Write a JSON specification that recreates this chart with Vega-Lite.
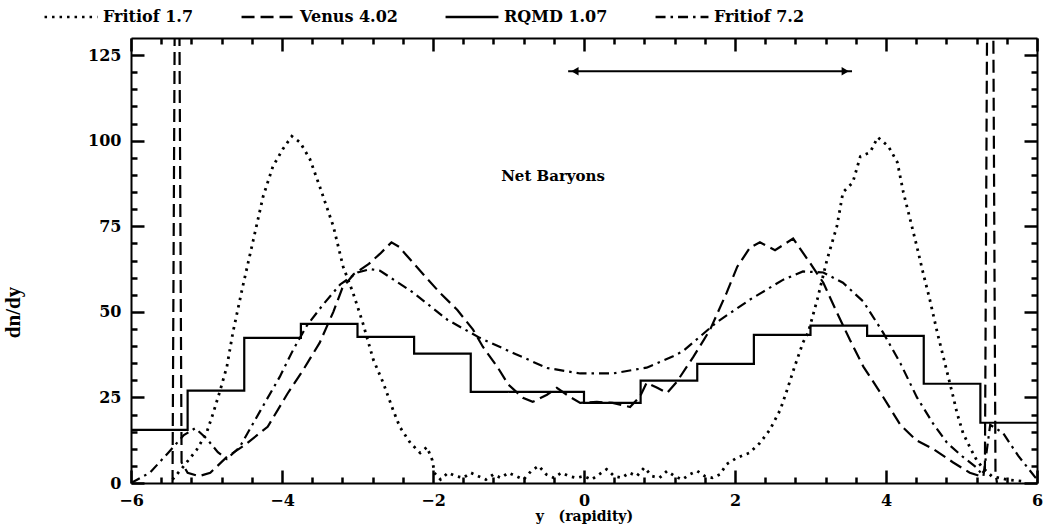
{
  "$schema": "https://vega.github.io/schema/vega-lite/v6.json",
  "width": 906,
  "height": 445,
  "autosize": {"type": "none"},
  "padding": {"left": 131, "top": 38, "right": 6, "bottom": 45},
  "background": "white",
  "config": {
    "view": {"stroke": null},
    "axis": {
      "domainColor": "black", "domainWidth": 2, "tickWidth": 2.5,
      "labelColor": "black", "labelFont": "DejaVu Serif", "labelFontWeight": "bold", "labelFontSize": 16,
      "grid": false, "titleColor": "black"
    }
  },
  "datasets": {
    "curves": [
      {"model": "Fritiof 1.7", "x": -5.45, "y": 1},
      {"model": "Fritiof 1.7", "x": -5.31, "y": 4.7},
      {"model": "Fritiof 1.7", "x": -5.13, "y": 9.7},
      {"model": "Fritiof 1.7", "x": -5.0, "y": 14.6},
      {"model": "Fritiof 1.7", "x": -4.91, "y": 20.5},
      {"model": "Fritiof 1.7", "x": -4.82, "y": 27},
      {"model": "Fritiof 1.7", "x": -4.73, "y": 34},
      {"model": "Fritiof 1.7", "x": -4.65, "y": 44},
      {"model": "Fritiof 1.7", "x": -4.52, "y": 57.4},
      {"model": "Fritiof 1.7", "x": -4.38, "y": 71},
      {"model": "Fritiof 1.7", "x": -4.25, "y": 83.7},
      {"model": "Fritiof 1.7", "x": -4.12, "y": 92.5},
      {"model": "Fritiof 1.7", "x": -3.99, "y": 97.5},
      {"model": "Fritiof 1.7", "x": -3.87, "y": 101.3},
      {"model": "Fritiof 1.7", "x": -3.76, "y": 99.5},
      {"model": "Fritiof 1.7", "x": -3.63, "y": 94.6},
      {"model": "Fritiof 1.7", "x": -3.5, "y": 86.6},
      {"model": "Fritiof 1.7", "x": -3.32, "y": 75},
      {"model": "Fritiof 1.7", "x": -3.19, "y": 63.2},
      {"model": "Fritiof 1.7", "x": -3.06, "y": 55.6},
      {"model": "Fritiof 1.7", "x": -2.93, "y": 46.8},
      {"model": "Fritiof 1.7", "x": -2.79, "y": 36},
      {"model": "Fritiof 1.7", "x": -2.66, "y": 29.3},
      {"model": "Fritiof 1.7", "x": -2.53, "y": 21.4},
      {"model": "Fritiof 1.7", "x": -2.44, "y": 16.4},
      {"model": "Fritiof 1.7", "x": -2.3, "y": 11.7},
      {"model": "Fritiof 1.7", "x": -2.17, "y": 8.8},
      {"model": "Fritiof 1.7", "x": -2.08, "y": 10.5},
      {"model": "Fritiof 1.7", "x": -2.01, "y": 6.7},
      {"model": "Fritiof 1.7", "x": -1.98, "y": 2.9},
      {"model": "Fritiof 1.7", "x": -1.9, "y": 1},
      {"model": "Fritiof 1.7", "x": -1.8, "y": 3},
      {"model": "Fritiof 1.7", "x": -1.7, "y": 2},
      {"model": "Fritiof 1.7", "x": -1.6, "y": 1.5},
      {"model": "Fritiof 1.7", "x": -1.5, "y": 3},
      {"model": "Fritiof 1.7", "x": -1.4, "y": 2},
      {"model": "Fritiof 1.7", "x": -1.3, "y": 1},
      {"model": "Fritiof 1.7", "x": -1.2, "y": 2.5},
      {"model": "Fritiof 1.7", "x": -1.1, "y": 1.5},
      {"model": "Fritiof 1.7", "x": -1.0, "y": 3},
      {"model": "Fritiof 1.7", "x": -0.9, "y": 2},
      {"model": "Fritiof 1.7", "x": -0.8, "y": 1},
      {"model": "Fritiof 1.7", "x": -0.7, "y": 3.5},
      {"model": "Fritiof 1.7", "x": -0.6, "y": 5},
      {"model": "Fritiof 1.7", "x": -0.5, "y": 2.5},
      {"model": "Fritiof 1.7", "x": -0.4, "y": 1.5},
      {"model": "Fritiof 1.7", "x": -0.3, "y": 3},
      {"model": "Fritiof 1.7", "x": -0.2, "y": 2},
      {"model": "Fritiof 1.7", "x": -0.1, "y": 1.5},
      {"model": "Fritiof 1.7", "x": 0.0, "y": 2},
      {"model": "Fritiof 1.7", "x": 0.1, "y": 1},
      {"model": "Fritiof 1.7", "x": 0.2, "y": 2.5},
      {"model": "Fritiof 1.7", "x": 0.3, "y": 4},
      {"model": "Fritiof 1.7", "x": 0.4, "y": 2},
      {"model": "Fritiof 1.7", "x": 0.5, "y": 1.5},
      {"model": "Fritiof 1.7", "x": 0.6, "y": 3},
      {"model": "Fritiof 1.7", "x": 0.7, "y": 2},
      {"model": "Fritiof 1.7", "x": 0.8, "y": 4.5},
      {"model": "Fritiof 1.7", "x": 0.9, "y": 2},
      {"model": "Fritiof 1.7", "x": 1.0, "y": 1.5},
      {"model": "Fritiof 1.7", "x": 1.1, "y": 3.5},
      {"model": "Fritiof 1.7", "x": 1.2, "y": 2},
      {"model": "Fritiof 1.7", "x": 1.3, "y": 1},
      {"model": "Fritiof 1.7", "x": 1.4, "y": 2.5},
      {"model": "Fritiof 1.7", "x": 1.5, "y": 3.5},
      {"model": "Fritiof 1.7", "x": 1.6, "y": 2},
      {"model": "Fritiof 1.7", "x": 1.7, "y": 1.5},
      {"model": "Fritiof 1.7", "x": 1.8, "y": 2.5},
      {"model": "Fritiof 1.7", "x": 1.89, "y": 5.5},
      {"model": "Fritiof 1.7", "x": 2.02, "y": 7.3},
      {"model": "Fritiof 1.7", "x": 2.19, "y": 8.8},
      {"model": "Fritiof 1.7", "x": 2.33, "y": 11.7},
      {"model": "Fritiof 1.7", "x": 2.46, "y": 15.5},
      {"model": "Fritiof 1.7", "x": 2.6, "y": 21.4},
      {"model": "Fritiof 1.7", "x": 2.69, "y": 27.2},
      {"model": "Fritiof 1.7", "x": 2.79, "y": 34},
      {"model": "Fritiof 1.7", "x": 2.9, "y": 41},
      {"model": "Fritiof 1.7", "x": 2.97, "y": 44},
      {"model": "Fritiof 1.7", "x": 3.09, "y": 53.6},
      {"model": "Fritiof 1.7", "x": 3.22, "y": 65.3},
      {"model": "Fritiof 1.7", "x": 3.35, "y": 75},
      {"model": "Fritiof 1.7", "x": 3.43, "y": 84.9},
      {"model": "Fritiof 1.7", "x": 3.56, "y": 87.8},
      {"model": "Fritiof 1.7", "x": 3.66, "y": 95.4},
      {"model": "Fritiof 1.7", "x": 3.79, "y": 96.6},
      {"model": "Fritiof 1.7", "x": 3.89, "y": 101},
      {"model": "Fritiof 1.7", "x": 4.03, "y": 98.4},
      {"model": "Fritiof 1.7", "x": 4.15, "y": 93.7},
      {"model": "Fritiof 1.7", "x": 4.23, "y": 84.9},
      {"model": "Fritiof 1.7", "x": 4.32, "y": 77},
      {"model": "Fritiof 1.7", "x": 4.41, "y": 69},
      {"model": "Fritiof 1.7", "x": 4.49, "y": 61.5},
      {"model": "Fritiof 1.7", "x": 4.58, "y": 53.6},
      {"model": "Fritiof 1.7", "x": 4.68, "y": 43.9},
      {"model": "Fritiof 1.7", "x": 4.78, "y": 35},
      {"model": "Fritiof 1.7", "x": 4.89, "y": 25.2},
      {"model": "Fritiof 1.7", "x": 4.94, "y": 20.5},
      {"model": "Fritiof 1.7", "x": 5.02, "y": 14.6},
      {"model": "Fritiof 1.7", "x": 5.11, "y": 10.5},
      {"model": "Fritiof 1.7", "x": 5.2, "y": 6.7},
      {"model": "Fritiof 1.7", "x": 5.27, "y": 4.7},
      {"model": "Fritiof 1.7", "x": 5.4, "y": 2},
      {"model": "Fritiof 1.7", "x": 5.6, "y": 1},
      {"model": "Fritiof 1.7", "x": 5.8, "y": 0.5},

      {"model": "Venus 4.02", "x": -5.45, "y": 0},
      {"model": "Venus 4.02", "x": -5.42, "y": 140},
      {"model": "Venus 4.02", "x": -5.36, "y": 140},
      {"model": "Venus 4.02", "x": -5.33, "y": 6},
      {"model": "Venus 4.02", "x": -5.25, "y": 3},
      {"model": "Venus 4.02", "x": -5.1, "y": 2},
      {"model": "Venus 4.02", "x": -4.95, "y": 3},
      {"model": "Venus 4.02", "x": -4.73, "y": 7.6},
      {"model": "Venus 4.02", "x": -4.5, "y": 11},
      {"model": "Venus 4.02", "x": -4.19, "y": 16.4},
      {"model": "Venus 4.02", "x": -3.93, "y": 26},
      {"model": "Venus 4.02", "x": -3.72, "y": 33},
      {"model": "Venus 4.02", "x": -3.5, "y": 41},
      {"model": "Venus 4.02", "x": -3.32, "y": 50},
      {"model": "Venus 4.02", "x": -3.2, "y": 57},
      {"model": "Venus 4.02", "x": -3.05, "y": 61},
      {"model": "Venus 4.02", "x": -2.85, "y": 64},
      {"model": "Venus 4.02", "x": -2.7, "y": 67},
      {"model": "Venus 4.02", "x": -2.55, "y": 70.3},
      {"model": "Venus 4.02", "x": -2.45, "y": 69},
      {"model": "Venus 4.02", "x": -2.37, "y": 67},
      {"model": "Venus 4.02", "x": -2.13, "y": 61},
      {"model": "Venus 4.02", "x": -1.91, "y": 55.6},
      {"model": "Venus 4.02", "x": -1.68, "y": 50.6},
      {"model": "Venus 4.02", "x": -1.47, "y": 44.8},
      {"model": "Venus 4.02", "x": -1.34, "y": 39.8},
      {"model": "Venus 4.02", "x": -1.15, "y": 34},
      {"model": "Venus 4.02", "x": -1.0, "y": 28.7},
      {"model": "Venus 4.02", "x": -0.81, "y": 24.9},
      {"model": "Venus 4.02", "x": -0.68, "y": 23.7},
      {"model": "Venus 4.02", "x": -0.49, "y": 25.8},
      {"model": "Venus 4.02", "x": -0.36, "y": 27.8},
      {"model": "Venus 4.02", "x": -0.19, "y": 25.2},
      {"model": "Venus 4.02", "x": -0.05, "y": 23.4},
      {"model": "Venus 4.02", "x": 0.17, "y": 23.7},
      {"model": "Venus 4.02", "x": 0.38, "y": 23.4},
      {"model": "Venus 4.02", "x": 0.61, "y": 22.2},
      {"model": "Venus 4.02", "x": 0.74, "y": 25.2},
      {"model": "Venus 4.02", "x": 0.83, "y": 29.3},
      {"model": "Venus 4.02", "x": 0.97, "y": 27.8},
      {"model": "Venus 4.02", "x": 1.1, "y": 26.3},
      {"model": "Venus 4.02", "x": 1.23, "y": 29.6},
      {"model": "Venus 4.02", "x": 1.45, "y": 36.9},
      {"model": "Venus 4.02", "x": 1.67, "y": 44.8},
      {"model": "Venus 4.02", "x": 1.89, "y": 55.6},
      {"model": "Venus 4.02", "x": 2.03, "y": 63.2},
      {"model": "Venus 4.02", "x": 2.2, "y": 68.8},
      {"model": "Venus 4.02", "x": 2.33, "y": 70.3},
      {"model": "Venus 4.02", "x": 2.53, "y": 68},
      {"model": "Venus 4.02", "x": 2.77, "y": 71.4},
      {"model": "Venus 4.02", "x": 2.99, "y": 64.4},
      {"model": "Venus 4.02", "x": 3.17, "y": 58.5},
      {"model": "Venus 4.02", "x": 3.35, "y": 49.8},
      {"model": "Venus 4.02", "x": 3.52, "y": 41.9},
      {"model": "Venus 4.02", "x": 3.7, "y": 34},
      {"model": "Venus 4.02", "x": 3.96, "y": 25.2},
      {"model": "Venus 4.02", "x": 4.19, "y": 17},
      {"model": "Venus 4.02", "x": 4.4, "y": 12.5},
      {"model": "Venus 4.02", "x": 4.62, "y": 10},
      {"model": "Venus 4.02", "x": 4.89, "y": 6},
      {"model": "Venus 4.02", "x": 5.11, "y": 3},
      {"model": "Venus 4.02", "x": 5.25, "y": 2},
      {"model": "Venus 4.02", "x": 5.31, "y": 4},
      {"model": "Venus 4.02", "x": 5.34, "y": 140},
      {"model": "Venus 4.02", "x": 5.42, "y": 140},
      {"model": "Venus 4.02", "x": 5.45, "y": 3},
      {"model": "Venus 4.02", "x": 5.47, "y": 0},

      {"model": "Fritiof 7.2", "x": -6.0, "y": 0},
      {"model": "Fritiof 7.2", "x": -5.75, "y": 3},
      {"model": "Fritiof 7.2", "x": -5.5, "y": 9},
      {"model": "Fritiof 7.2", "x": -5.3, "y": 14},
      {"model": "Fritiof 7.2", "x": -5.15, "y": 16},
      {"model": "Fritiof 7.2", "x": -5.0, "y": 13},
      {"model": "Fritiof 7.2", "x": -4.85, "y": 9},
      {"model": "Fritiof 7.2", "x": -4.73, "y": 7},
      {"model": "Fritiof 7.2", "x": -4.56, "y": 10.5},
      {"model": "Fritiof 7.2", "x": -4.29, "y": 21},
      {"model": "Fritiof 7.2", "x": -4.03, "y": 31},
      {"model": "Fritiof 7.2", "x": -3.85, "y": 39},
      {"model": "Fritiof 7.2", "x": -3.67, "y": 46},
      {"model": "Fritiof 7.2", "x": -3.46, "y": 52},
      {"model": "Fritiof 7.2", "x": -3.23, "y": 58},
      {"model": "Fritiof 7.2", "x": -3.0, "y": 61.5},
      {"model": "Fritiof 7.2", "x": -2.83, "y": 62.5},
      {"model": "Fritiof 7.2", "x": -2.7, "y": 62},
      {"model": "Fritiof 7.2", "x": -2.26, "y": 55.6},
      {"model": "Fritiof 7.2", "x": -1.81, "y": 47.7},
      {"model": "Fritiof 7.2", "x": -1.38, "y": 42.4},
      {"model": "Fritiof 7.2", "x": -0.94, "y": 38},
      {"model": "Fritiof 7.2", "x": -0.49, "y": 33.6},
      {"model": "Fritiof 7.2", "x": -0.05, "y": 32},
      {"model": "Fritiof 7.2", "x": 0.38, "y": 32},
      {"model": "Fritiof 7.2", "x": 0.83, "y": 33.7},
      {"model": "Fritiof 7.2", "x": 1.18, "y": 37},
      {"model": "Fritiof 7.2", "x": 1.31, "y": 38.5},
      {"model": "Fritiof 7.2", "x": 1.76, "y": 47},
      {"model": "Fritiof 7.2", "x": 2.2, "y": 53.6},
      {"model": "Fritiof 7.2", "x": 2.64, "y": 59.4},
      {"model": "Fritiof 7.2", "x": 2.9, "y": 61.8},
      {"model": "Fritiof 7.2", "x": 3.17, "y": 61.5},
      {"model": "Fritiof 7.2", "x": 3.43, "y": 58.5},
      {"model": "Fritiof 7.2", "x": 3.7, "y": 53},
      {"model": "Fritiof 7.2", "x": 3.96, "y": 44},
      {"model": "Fritiof 7.2", "x": 4.19, "y": 35},
      {"model": "Fritiof 7.2", "x": 4.41, "y": 25},
      {"model": "Fritiof 7.2", "x": 4.62, "y": 17.5},
      {"model": "Fritiof 7.2", "x": 4.81, "y": 11.7},
      {"model": "Fritiof 7.2", "x": 5.02, "y": 7.6},
      {"model": "Fritiof 7.2", "x": 5.2, "y": 4.5},
      {"model": "Fritiof 7.2", "x": 5.29, "y": 2},
      {"model": "Fritiof 7.2", "x": 5.38, "y": 17},
      {"model": "Fritiof 7.2", "x": 5.55, "y": 14.6},
      {"model": "Fritiof 7.2", "x": 5.75, "y": 8},
      {"model": "Fritiof 7.2", "x": 5.9, "y": 3.8},
      {"model": "Fritiof 7.2", "x": 6.0, "y": 1},

      {"model": "RQMD 1.07", "x": -6.0, "y": 15.5},
      {"model": "RQMD 1.07", "x": -5.25, "y": 27},
      {"model": "RQMD 1.07", "x": -4.5, "y": 42.4},
      {"model": "RQMD 1.07", "x": -3.75, "y": 46.5},
      {"model": "RQMD 1.07", "x": -3.0, "y": 42.7},
      {"model": "RQMD 1.07", "x": -2.25, "y": 37.8},
      {"model": "RQMD 1.07", "x": -1.5, "y": 26.6},
      {"model": "RQMD 1.07", "x": -0.75, "y": 26.6},
      {"model": "RQMD 1.07", "x": 0.0, "y": 23.4},
      {"model": "RQMD 1.07", "x": 0.75, "y": 29.9},
      {"model": "RQMD 1.07", "x": 1.5, "y": 34.8},
      {"model": "RQMD 1.07", "x": 2.25, "y": 43.3},
      {"model": "RQMD 1.07", "x": 3.0, "y": 46},
      {"model": "RQMD 1.07", "x": 3.75, "y": 43},
      {"model": "RQMD 1.07", "x": 4.5, "y": 29},
      {"model": "RQMD 1.07", "x": 5.25, "y": 17.6},
      {"model": "RQMD 1.07", "x": 6.0, "y": 17.6}
    ]
  },
  "layer": [
    {
      "data": {"name": "curves"},
      "transform": [{"filter": "datum.model !== 'RQMD 1.07' && datum.model !== 'Fritiof 1.7'"}],
      "mark": {"type": "line", "color": "black", "strokeWidth": 2.2, "clip": true},
      "encoding": {
        "x": {
          "field": "x", "type": "quantitative",
          "scale": {"domain": [-6, 6], "nice": false, "zero": false},
          "axis": {
            "orient": "bottom",
            "values": [-6, -5.6, -5.2, -4.8, -4.4, -4, -3.6, -3.2, -2.8, -2.4, -2, -1.6, -1.2, -0.8, -0.4, 0, 0.4, 0.8, 1.2, 1.6, 2, 2.4, 2.8, 3.2, 3.6, 4, 4.4, 4.8, 5.2, 5.6, 6],
            "labelExpr": "abs(datum.value % 2) < 0.01 ? format(datum.value, 'd') : ''",
            "tickColor": "black",
            "tickSize": {"condition": {"test": "abs(datum.value % 2) < 0.01", "value": -13}, "value": -6},
            "labelPadding": 22,
            "labelFlush": false,
            "labelOverlap": false,
            "title": "y\u00a0\u00a0\u00a0(rapidity)",
            "titleFont": "DejaVu Serif", "titleFontWeight": "bold", "titleFontSize": 14,
            "titleBaseline": "top", "titleY": 26
          }
        },
        "y": {
          "field": "y", "type": "quantitative",
          "scale": {"domain": [0, 130], "nice": false, "zero": true},
          "axis": {
            "orient": "left",
            "values": [0, 5, 10, 15, 20, 25, 30, 35, 40, 45, 50, 55, 60, 65, 70, 75, 80, 85, 90, 95, 100, 105, 110, 115, 120, 125],
            "labelExpr": "datum.value % 25 === 0 ? datum.label : ''",
            "tickColor": "black",
            "tickSize": {"condition": {"test": "datum.value % 25 === 0", "value": -13}, "value": -6},
            "labelPadding": 23,
            "labelFlush": false,
            "labelOverlap": false,
            "title": "dn/dy",
            "titleFont": "Liberation Serif", "titleFontWeight": "bold", "titleFontSize": 21,
            "titleX": -108, "titleY": 274
          }
        },
        "strokeDash": {
          "field": "model", "type": "nominal",
          "scale": {
            "domain": ["Fritiof 1.7", "Venus 4.02", "RQMD 1.07", "Fritiof 7.2"],
            "range": [[2.5, 5], [13, 6], [1, 0], [10, 5, 2.5, 5]]
          },
          "legend": {
            "orient": "none", "legendX": -88, "legendY": -49,
            "direction": "horizontal", "title": null,
            "symbolType": "stroke", "symbolSize": 2800, "symbolStrokeWidth": 2.4,
            "symbolStrokeColor": "black",
            "labelFont": "DejaVu Serif", "labelFontWeight": "bold", "labelFontSize": 16,
            "labelColor": "black", "labelOffset": 4, "columnPadding": 42
          }
        }
      }
    },
    {
      "data": {"name": "curves"},
      "transform": [{"filter": "datum.model === 'RQMD 1.07'"}],
      "mark": {"type": "line", "color": "black", "strokeWidth": 2.2, "interpolate": "step-after", "clip": true},
      "encoding": {
        "x": {
          "field": "x", "type": "quantitative",
          "scale": {"domain": [-6, 6], "nice": false, "zero": false},
          "axis": {
            "orient": "top",
            "values": [-6, -5.6, -5.2, -4.8, -4.4, -4, -3.6, -3.2, -2.8, -2.4, -2, -1.6, -1.2, -0.8, -0.4, 0, 0.4, 0.8, 1.2, 1.6, 2, 2.4, 2.8, 3.2, 3.6, 4, 4.4, 4.8, 5.2, 5.6, 6],
            "labels": false,
            "tickColor": "black",
            "tickSize": {"condition": {"test": "abs(datum.value % 2) < 0.01", "value": -13}, "value": -6},
            "title": null
          }
        },
        "y": {
          "field": "y", "type": "quantitative",
          "scale": {"domain": [0, 130], "nice": false, "zero": true},
          "axis": {
            "orient": "right",
            "values": [0, 5, 10, 15, 20, 25, 30, 35, 40, 45, 50, 55, 60, 65, 70, 75, 80, 85, 90, 95, 100, 105, 110, 115, 120, 125],
            "labels": false,
            "tickColor": "black",
            "tickSize": {"condition": {"test": "datum.value % 25 === 0", "value": -13}, "value": -6},
            "title": null
          }
        },
        "strokeDash": {"field": "model", "type": "nominal"}
      }
    },
    {
      "data": {"name": "curves"},
      "transform": [{"filter": "datum.model === 'Fritiof 1.7'"}],
      "mark": {"type": "line", "color": "black", "strokeWidth": 2.8, "clip": true},
      "encoding": {
        "x": {"field": "x", "type": "quantitative", "axis": null},
        "y": {"field": "y", "type": "quantitative", "axis": null},
        "strokeDash": {"field": "model", "type": "nominal"}
      }
    },
    {
      "data": {"values": [{"x": -0.21, "x2": 3.55, "y": 120.3}]},
      "mark": {"type": "rule", "color": "black", "strokeWidth": 2},
      "encoding": {
        "x": {"field": "x", "type": "quantitative", "axis": null},
        "x2": {"field": "x2"},
        "y": {"field": "y", "type": "quantitative", "axis": null}
      }
    },
    {
      "data": {"values": [{"x": -0.12, "y": 120.3}]},
      "mark": {"type": "point", "shape": "triangle-left", "filled": true, "color": "black", "opacity": 1, "size": 70},
      "encoding": {
        "x": {"field": "x", "type": "quantitative", "axis": null},
        "y": {"field": "y", "type": "quantitative", "axis": null}
      }
    },
    {
      "data": {"values": [{"x": 3.46, "y": 120.3}]},
      "mark": {"type": "point", "shape": "triangle-right", "filled": true, "color": "black", "opacity": 1, "size": 70},
      "encoding": {
        "x": {"field": "x", "type": "quantitative", "axis": null},
        "y": {"field": "y", "type": "quantitative", "axis": null}
      }
    },
    {
      "data": {"values": [{"label": "Net Baryons", "x": -0.41, "y": 89.6}]},
      "mark": {"type": "text", "font": "DejaVu Serif", "fontWeight": "bold", "fontSize": 15, "color": "black", "align": "center", "baseline": "middle"},
      "encoding": {
        "x": {"field": "x", "type": "quantitative", "axis": null},
        "y": {"field": "y", "type": "quantitative", "axis": null},
        "text": {"field": "label"}
      }
    }
  ],
  "resolve": {"axis": {"x": "independent", "y": "independent"}}
}
